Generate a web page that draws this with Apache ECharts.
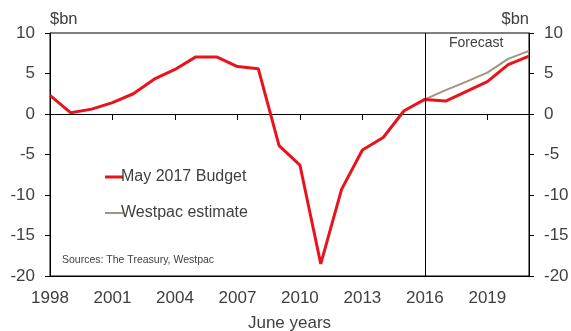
<!DOCTYPE html>
<html>
<head>
<meta charset="utf-8">
<script src="https://cdn.jsdelivr.net/npm/echarts@6/dist/echarts.min.js"></script>
<style>html,body{margin:0;padding:0;background:#fff}#c{width:571px;height:331px}</style>
</head>
<body>
<div id="c"></div>
<script>
var years = [1998,1999,2000,2001,2002,2003,2004,2005,2006,2007,2008,2009,2010,2011,2012,2013,2014,2015,2016,2017,2018,2019,2020,2021];
var budget = [2.3,0.15,0.6,1.4,2.5,4.3,5.5,7.05,7.05,5.85,5.6,-3.9,-6.3,-18.5,-9.3,-4.45,-2.9,0.4,1.8,1.6,2.8,4.0,6.1,7.15];
var westpacYears = [2016,2017,2018,2019,2020,2021];
var westpac = [1.8,2.95,4.0,5.1,6.8,7.8];
var seriesNames = ['May 2017 Budget','Westpac estimate'];
var forecastStart = 2016;

var font = 'Liberation Sans, Arial, sans-serif';
var txt = '#404040';
function pairs(xs, ys){ return xs.map(function(x,i){ return [x, ys[i]]; }); }

var chart = echarts.init(document.getElementById('c'));
var yCommon = {
  type:'value', min:-20, max:10, interval:5,
  axisLine:{show:true, onZero:false, lineStyle:{color:'#000', width:1}},
  axisTick:{show:true, inside:false, length:5, lineStyle:{color:'#000'}},
  splitLine:{show:false},
  axisLabel:{color:txt, fontSize:17, fontFamily:font, margin:15},
  name:'$bn', nameGap:5,
  nameTextStyle:{color:txt, fontSize:16.5, fontFamily:font}
};
chart.setOption({
  animation:false,
  grid:{left:50, right:42, top:33, bottom:55, show:true, borderColor:'#000', borderWidth:1,
    containLabel:false, outerBoundsMode:'none'},
  xAxis:[{
    type:'value', min:1998, max:2021, interval:3,
    axisLine:{show:true, onZero:false, lineStyle:{color:'#000'}},
    axisTick:{show:false}, splitLine:{show:false},
    axisLabel:{color:txt, fontSize:17, fontFamily:font, margin:14, showMaxLabel:false,
      formatter:function(v){return String(v);}},
    name:'June years', nameLocation:'middle', nameGap:39,
    nameTextStyle:{color:txt, fontSize:17, fontFamily:font}
  },{
    type:'value', min:1998, max:2021, interval:3, position:'bottom',
    axisLine:{show:true, onZero:true, onZeroAxisIndex:0, lineStyle:{color:'#000'}},
    axisTick:{show:true, inside:false, length:6, lineStyle:{color:'#000'}},
    axisLabel:{show:false}, splitLine:{show:false}
  }],
  yAxis:[
    Object.assign({}, yCommon, {position:'left', nameTextStyle:Object.assign({}, yCommon.nameTextStyle, {align:'left'})}),
    Object.assign({}, yCommon, {position:'right', nameTextStyle:Object.assign({}, yCommon.nameTextStyle, {align:'right'})})
  ],
  legend:[{
    data:[seriesNames[0]], left:100, top:164, orient:'vertical',
    itemWidth:18, itemHeight:3, itemGap:2, icon:'rect',
    textStyle:{color:txt, fontSize:16, fontFamily:font, padding:[0,0,0,-7]}
  },{
    data:[seriesNames[1]], left:100, top:200, orient:'vertical',
    itemWidth:18, itemHeight:2, itemGap:2, icon:'rect',
    textStyle:{color:txt, fontSize:16, fontFamily:font, padding:[0,0,0,-7]}
  }],
  graphic:[
    {type:'text', left:449, top:36, style:{text:'Forecast', fill:txt, fontSize:14, fontFamily:font}},
    {type:'text', left:62, top:255, style:{text:'Sources: The Treasury, Westpac', fill:txt, fontSize:10.5, fontFamily:font}}
  ],
  series:[{
    name:seriesNames[1], type:'line', data:pairs(westpacYears, westpac),
    symbol:'none', lineStyle:{color:'#a39384', width:2}, itemStyle:{color:'#a39384'}, z:2
  },{
    name:seriesNames[0], type:'line', data:pairs(years, budget),
    symbol:'none', lineStyle:{color:'#e8141c', width:3}, itemStyle:{color:'#e8141c'}, z:3,
    markLine:{silent:true, symbol:'none', label:{show:false},
      lineStyle:{color:'#000', width:1, type:'solid'},
      data:[{xAxis:forecastStart}]}
  }]
});
</script>
</body>
</html>
